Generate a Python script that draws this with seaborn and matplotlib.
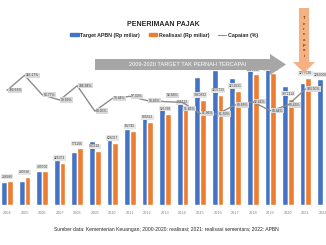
import numpy as np
import pandas as pd
import matplotlib
matplotlib.use('Agg')
import matplotlib.pyplot as plt
import seaborn as sns
from matplotlib.patches import Polygon, Patch
from matplotlib.lines import Line2D

years = [str(y) for y in range(2004, 2023)]
target = [232866, 241488, 343930, 452573, 534530, 646660, 658033, 763355, 894586,
          995214, 1072377, 1294258, 1355204, 1283566, 1424000, 1577560, 1198820,
          1229585, 1265000]
realisasi = [238990, 280536, 339700, 425373, 571106, 543518, 628027, 742745, 835812,
             921398, 985132, 1060832, 1105733, 1151031, 1315932, 1332063, 1072114,
             1277530, np.nan]
capaian = [102.63, 116.17, 98.77, 93.99, 106.84, 84.05, 95.44, 97.30, 93.43,
           92.58, 91.86, 81.96, 81.59, 89.68, 92.41, 84.44, 89.43, 103.90]

BLUE = '#4472c4'
ORANGE = '#ed7d31'
GREY_LINE = '#8c8c8c'

sns.set_style('white')
plt.rcParams['font.family'] = ['Liberation Sans', 'DejaVu Sans']

df = pd.DataFrame({'Tahun': years,
                   'Target APBN (Rp miliar)': target,
                   'Realisasi (Rp miliar)': realisasi})
long = df.melt(id_vars='Tahun', var_name='Seri', value_name='Nilai')

W, H = 326, 245
fig = plt.figure(figsize=(W / 100, H / 100), dpi=100)
fig.patch.set_facecolor('white')

def fx(px):
    return px / W

def fy(py):
    return 1 - py / H

ax = fig.add_axes([0, 40 / H, 1, 134 / H])
sns.barplot(data=long, x='Tahun', y='Nilai', hue='Seri',
            palette=[BLUE, ORANGE], width=0.66, saturation=1,
            errorbar=None, legend=False, ax=ax)
ax.set_xlim(-0.4, 18.17)
ax.set_ylim(0, 1350000)
ax.set_xlabel('')
ax.set_ylabel('')
ax.set_yticks([])
ax.tick_params(axis='x', length=0, pad=4, labelsize=2.8, labelcolor='#7f7f7f')
for s in ax.spines.values():
    s.set_visible(False)

# data labels on bars (realisasi; 2022 = APBN)
for i, r in enumerate(realisasi):
    if np.isnan(r):
        val, xpos = target[i], i - 0.16
    else:
        val, xpos = r, i
    ax.annotate(f'{int(val)}', (xpos, min(val, 1330000)),
                xytext=(0, 2), textcoords='offset points', ha='center', va='bottom',
                fontsize=2.4, color='#404040', annotation_clip=False,
                bbox=dict(boxstyle='square,pad=0.2', fc='#e7e6e6', ec='none'))

ax2 = ax.twinx()
sns.lineplot(x=np.arange(len(capaian)), y=capaian, color=GREY_LINE, lw=1, ax=ax2)
ax2.set_ylim(0, 120)
ax2.set_yticks([])
for s in ax2.spines.values():
    s.set_visible(False)
shift = {9: (1, 3, 'bottom'), 10: (1, -3, 'top')}
for i, p in enumerate(capaian):
    dx, dy, va = shift.get(i, (1, 0, 'center'))
    ax2.annotate(f'{p:.2f}%', (i, p), xytext=(dx, dy), textcoords='offset points',
                 ha='left', va=va, fontsize=2.4, color='#404040',
                 annotation_clip=False,
                 bbox=dict(boxstyle='square,pad=0.2', fc='#d9d9d9', ec='none'))

# title and legend
fig.text(fx(163), fy(24), 'PENERIMAAN PAJAK', ha='center', va='center',
         fontsize=5, fontweight='bold', color='#262626')
handles = [Patch(color=BLUE), Patch(color=ORANGE), Line2D([], [], color=GREY_LINE, lw=0.8)]
labels = ['Target APBN (Rp miliar)', 'Realisasi (Rp miliar)', 'Capaian (%)']
fig.legend(handles, labels, loc='center', bbox_to_anchor=(fx(164), fy(35)), ncol=3,
           frameon=False, prop={'size': 3.8, 'weight': 'bold'}, handlelength=1.6,
           handleheight=0.6, columnspacing=1.6, handletextpad=0.3)

# grey banner arrow
banner = [(95, 59), (270, 59), (270, 54), (286, 64.5), (270, 75), (270, 70), (95, 70)]
fig.add_artist(Polygon([(fx(x), fy(y)) for x, y in banner], closed=True,
                       transform=fig.transFigure, fc='#a6a6a6', ec='none'))
fig.text(fx(188), fy(64.5), '2009-2020 TARGET TAK PERNAH TERCAPAI', ha='center',
         va='center', fontsize=4.1, color='white')

# "Tercapai" arrow
down = [(299, 8), (309, 8), (309, 62), (315, 62), (304, 73), (293, 62), (299, 62)]
fig.add_artist(Polygon([(fx(x), fy(y)) for x, y in down], closed=True,
                       transform=fig.transFigure, fc='#f4b183', ec='none'))
fig.text(fx(304), fy(37), '\n'.join('Tercapai'), ha='center', va='center',
         fontsize=3.2, linespacing=1.45, color='#843c0c', fontweight='bold')

fig.text(fx(166), fy(229),
         'Sumber data: Kementerian Keuangan; 2000-2020: realisasi; 2021: realisasi sementara; 2022: APBN',
         ha='center', va='center', fontsize=3.6, color='#262626')

fig.savefig('out.png', dpi=100)
